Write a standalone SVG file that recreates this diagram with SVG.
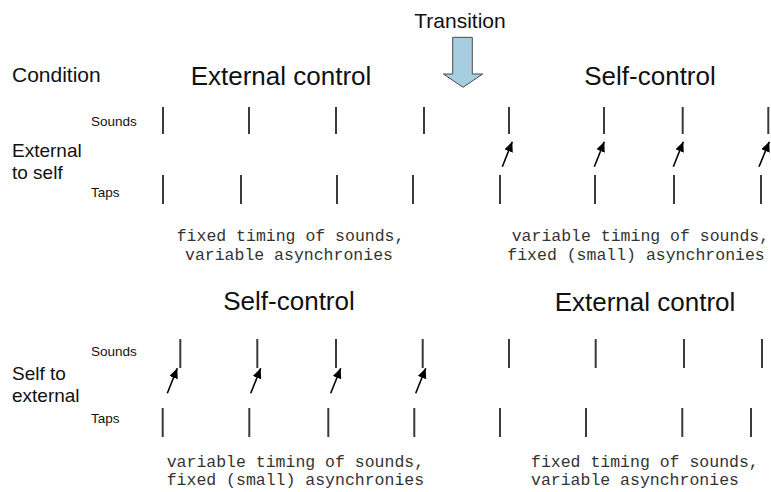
<svg xmlns="http://www.w3.org/2000/svg" width="771" height="492" viewBox="0 0 771 492">
<style>
.lbl{font-family:"Liberation Sans",Arial,sans-serif;fill:#111}
.big{font-size:19px}
.hdr{font-size:26px;text-anchor:middle}
.sm{font-size:13.5px}
.mono{font-family:"Liberation Mono","Courier New",monospace;font-size:16.5px;fill:#333}
.tick{stroke:#3a3a3a;stroke-width:2;fill:none}
.arr{stroke:#000;stroke-width:1.6;fill:none;marker-end:url(#ah)}
</style>
<defs>
<marker id="ah" markerUnits="userSpaceOnUse" markerWidth="12" markerHeight="10" refX="10" refY="4.5" orient="auto">
<path d="M0,0 L10,4.5 L0,9 Z" fill="#000"/>
</marker>
</defs>
<rect width="771" height="492" fill="#fff"/>
<g id="transition">
<text class="lbl" x="460" y="28" font-size="21" text-anchor="middle">Transition</text>
<path d="M452.7,37.3 H472.3 V74 H482.7 L463,87.3 L443.3,74 H452.7 Z" fill="#a6cde0" stroke="#4a4a4a" stroke-width="1"/>
</g>
<g id="labels">
<text class="lbl" x="12" y="82" font-size="21">Condition</text>
<text class="lbl big" x="12" y="157">External</text>
<text class="lbl big" x="12" y="179">to self</text>
<text class="lbl big" x="12" y="380">Self to</text>
<text class="lbl big" x="12" y="402">external</text>
<text class="lbl sm" x="91" y="126">Sounds</text>
<text class="lbl sm" x="91" y="197">Taps</text>
<text class="lbl sm" x="91" y="356">Sounds</text>
<text class="lbl sm" x="91" y="423">Taps</text>
<text class="lbl hdr" x="281" y="85">External control</text>
<text class="lbl hdr" x="650" y="85">Self-control</text>
<text class="lbl hdr" x="289" y="310">Self-control</text>
<text class="lbl hdr" x="645" y="311">External control</text>
</g>
<g id="descriptions">
<text class="mono" x="176.7" y="241">fixed timing of sounds,</text>
<text class="mono" x="185" y="260">variable asynchronies</text>
<text class="mono" x="511.7" y="241">variable timing of sounds,</text>
<text class="mono" x="507.3" y="260">fixed (small) asynchronies</text>
<text class="mono" x="166.7" y="467">variable timing of sounds,</text>
<text class="mono" x="166.7" y="485">fixed (small) asynchronies</text>
<text class="mono" x="531" y="467">fixed timing of sounds,</text>
<text class="mono" x="531" y="485">variable asynchronies</text>
</g>
<g id="ticks">
<path class="tick" d="M163,107V134 M249,107V134 M336,107V134 M424,107V134 M509,107V134 M604,107V134 M682.7,107V134 M768.3,107V134"/>
<path class="tick" d="M163,175V204 M241,175V204 M337,175V204 M413,175V204 M500,175V204 M595,175V204 M674,175V204 M761,175V204"/>
<path class="tick" d="M180.3,339V368 M257.3,339V368 M336,339V368 M422.7,339V368 M509,339V368 M595.7,339V368 M684,339V368 M762,339V368"/>
<path class="tick" d="M162.7,408V437 M249.3,408V437 M328.3,408V437 M414.3,408V437 M500,408V437 M586,408V437 M682.3,408V437 M751,408V437"/>
</g>
<g id="connectors">
<line class="arr" x1="502.3" y1="166.7" x2="512.3" y2="141.7"/>
<line class="arr" x1="594.3" y1="166.7" x2="604.3" y2="141.7"/>
<line class="arr" x1="673.3" y1="166.7" x2="683.3" y2="141.7"/>
<line class="arr" x1="759" y1="166.7" x2="769.3" y2="141.7"/>
<line class="arr" x1="167.3" y1="393.3" x2="177.3" y2="368.3"/>
<line class="arr" x1="250.7" y1="393.3" x2="260.7" y2="368.3"/>
<line class="arr" x1="330.7" y1="393.3" x2="340.7" y2="368.3"/>
<line class="arr" x1="415.7" y1="393.3" x2="425.7" y2="368.3"/>
</g>
</svg>
